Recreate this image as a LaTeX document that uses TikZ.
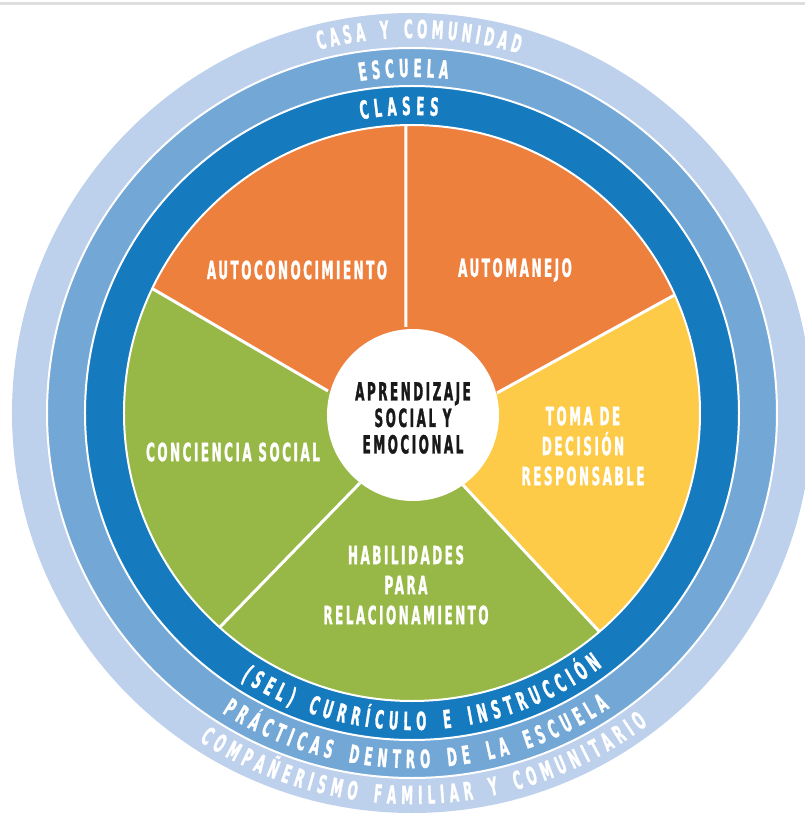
\documentclass[tikz,border=0pt]{standalone}
\usepackage{fontspec}
\usetikzlibrary{decorations.text}
\newfontfamily\piefont{DejaVu Sans Bold}[FakeStretch=0.48,FakeBold=1.2,LetterSpace=10]
\definecolor{casa}{RGB}{189,208,236}
\definecolor{escuela}{RGB}{115,167,214}
\definecolor{clases}{RGB}{22,122,191}
\definecolor{naranja}{RGB}{238,128,62}
\definecolor{amarillo}{RGB}{253,203,71}
\definecolor{verde}{RGB}{151,184,70}
\tikzset{
  sep/.style={draw=white, line width=3pt},
  ringline/.style={draw=white, line width=2pt},
  slicelabel/.style={text=white, font=\piefont\fontsize{25}{30}\selectfont, align=center},
  hublabel/.style={text=black!90, font=\piefont\fontsize{25}{26.5}\selectfont, align=center},
  ringtext/.style 2 args={decorate, decoration={text along path, text align=center,
    text={|\piefont\fontsize{25}{28}\selectfont\color{white}\kern#1pt|#2}}}
}
\begin{document}
\begin{tikzpicture}[x=1pt,y=1pt]
      \useasboundingbox (-412,-401) rectangle (393,413);
      \fill[black!13] (-412,408) rectangle (393,411);
      \fill[casa] (0,0) circle[radius=400];
      \fill[escuela] (0,0) circle[radius=365];
      \fill[clases] (0,0) circle[radius=327];
      \coordinate (oT) at (91.2:288);
      \coordinate (oUL) at (154.4:288);
      \coordinate (oLL) at (228.1:288);
      \coordinate (oLR) at (310.6:288);
      \coordinate (oUR) at (24.2:288);
      \coordinate (iT) at (-6,86);
      \coordinate (iUL) at (-84,22);
      \coordinate (iLL) at (-52,-70);
      \coordinate (iLR) at (51,-72);
      \coordinate (iUR) at (85,20);
      \fill[naranja] (0,-1) -- (iT) -- (oT) arc[start angle=91.2, end angle=154.4, radius=288] -- (iUL) -- cycle;
      \fill[verde] (0,-1) -- (iUL) -- (oUL) arc[start angle=154.4, end angle=228.1, radius=288] -- (iLL) -- cycle;
      \fill[verde] (0,-1) -- (iLL) -- (oLL) arc[start angle=228.1, end angle=310.6, radius=288] -- (iLR) -- cycle;
      \fill[amarillo] (0,-1) -- (iLR) -- (oLR) arc[start angle=-49.4, end angle=24.2, radius=288] -- (iUR) -- cycle;
      \fill[naranja] (0,-1) -- (iUR) -- (oUR) arc[start angle=24.2, end angle=91.2, radius=288] -- (iT) -- cycle;
      \begin{scope}[sep]
        \draw (iT) -- (oT);
        \draw (iUL) -- (oUL);
        \draw (iLL) -- (oLL);
        \draw (iLR) -- (oLR);
        \draw (iUR) -- (oUR);
      \end{scope}
      \draw[ringline] (0,0) circle[radius=288];
      \draw[ringline] (0,0) circle[radius=327];
      \draw[ringline] (0,0) circle[radius=365];
      \node[circle, fill=white, minimum size=172, inner sep=0] (hub) at (1,-2) {};
      \node[hublabel] (hubtext) at (1,-5) {APRENDIZAJE\\SOCIAL Y\\EMOCIONAL};
      \node[slicelabel] (autoc) at (-115,143) {AUTOCONOCIMIENTO};
      \node[slicelabel] (autom) at (103,143) {AUTOMANEJO};
      \node[slicelabel] (toma) at (171,-33) {TOMA DE\\DECISIÓN\\RESPONSABLE};
      \node[slicelabel] (conc) at (-179,-39) {CONCIENCIA SOCIAL};
      \node[slicelabel] (habil) at (-6,-172) {HABILIDADES\\PARA\\RELACIONAMIENTO};
      \path[ringtext={4.0}{CASA Y COMUNIDAD}] (139.2:375) arc[start angle=139.2, end angle=39.2, radius=375];
      \path[ringtext={4.6}{ESCUELA}] (141.8:336) arc[start angle=141.8, end angle=41.8, radius=336];
      \path[ringtext={5.2}{CLASES}] (142.9:298) arc[start angle=142.9, end angle=42.9, radius=298];
      \path[ringtext={5.4}{(SEL) CURRÍCULO E INSTRUCCIÓN}] (201.6:317) arc[start angle=201.6, end angle=341.6, radius=317];
      \path[ringtext={5.4}{PRÁCTICAS DENTRO DE LA ESCUELA}] (200.3:355) arc[start angle=200.3, end angle=340.3, radius=355];
      \path[ringtext={5.2}{COMPAÑERISMO FAMILIAR Y COMUNITARIO}] (201.7:391) arc[start angle=201.7, end angle=341.7, radius=391];
    \end{tikzpicture}
\end{document}
